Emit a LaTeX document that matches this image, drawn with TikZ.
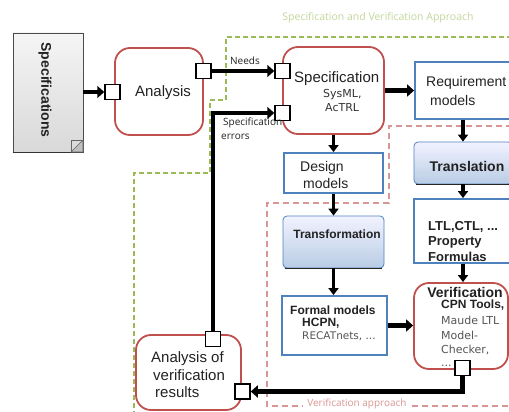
\documentclass[tikz,border=0pt]{standalone}
\usepackage{fontspec}
\setmainfont{Liberation Sans}
\newfontfamily\labfont{Open Sans}
\newfontfamily\dvfont{DejaVu Sans}
\usetikzlibrary{arrows.meta}
\definecolor{redb}{HTML}{C0504D}
\definecolor{blueb}{HTML}{4F81BD}
\definecolor{greend}{HTML}{9BBB59}
\definecolor{greent}{HTML}{C3D69B}
\definecolor{redt}{HTML}{D99694}
\definecolor{txtd}{HTML}{222222}
\definecolor{txtg}{HTML}{555555}
\tikzset{
  port/.style={draw=black, fill=white, line width=1.5pt, minimum size=15pt, inner sep=0pt},
  proc/.style={draw=redb, line width=1.8pt, rounded corners=15pt, inner sep=0pt},
  bluebox/.style={draw=blueb, line width=1.8pt, inner sep=0pt, fill=white},
  shbox/.style={draw=blueb, line width=0.8pt, top color=blue!5, bottom color=blueb!40, rounded corners=4pt, inner sep=0pt},
  arr/.style={line width=4.2pt, -{Triangle[length=7pt,width=12pt]}},
  varr/.style={line width=3.2pt, -{Triangle[length=7pt,width=10pt]}},
  txt/.style={inner sep=0pt, anchor=west, text=txtd},
  big/.style={font=\fontsize{15}{17}\selectfont},
  mid/.style={font=\fontsize{14}{16}\selectfont},
  sm/.style={font=\dvfont\fontsize{11}{13}\selectfont},
  lab/.style={inner sep=0pt, font=\labfont\fontsize{10}{12}\selectfont},
  gdash/.style={draw=greend, line width=1.3pt, dash pattern=on 5pt off 3pt},
  rdash/.style={draw=redt, line width=1.3pt, dash pattern=on 6pt off 4pt},
}
\begin{document}
\begin{tikzpicture}[x=1pt,y=-1pt]
\clip (0,0) rectangle (509,412);
\fill[white] (0,0) rectangle (509,412);
% dashed frames
\draw[gdash] (512,37) -- (226,37) -- (226,100) -- (210,100) -- (210,173) -- (134,173) -- (134,414);
\node[lab, text=greent, font=\labfont\fontsize{10.5}{12}\selectfont] (ttl) at (378,18) {Specification and Verification Approach};
\draw[rdash] (512,126) -- (389,126) -- (389,203) -- (267,203) -- (267,406) -- (512,406);
\node[lab, text=redt, fill=white, inner xsep=4pt, inner ysep=1pt] (vtl) at (357,404) {Verification approach};
% document
\node[draw=black!70, line width=0.8pt, top color=gray!8, bottom color=gray!30, minimum width=70pt, minimum height=119pt, inner sep=0pt] (doc) at (48,92.5) {};
\draw[line width=1.6pt, black!80] (doc.south west) -- (doc.south east);
\draw[black!60, fill=gray!50, line width=0.6pt] (71,152) -- (83,140) -- (83,152) -- cycle;
\draw[black!60, line width=0.6pt] (71,152) -- (71,140) -- (83,140);
\node[inner sep=0pt, rotate=-90, font=\bfseries\fontsize{14}{16}\selectfont, text=txtd] (doct) at (45,90) {Specifications};
% process boxes
\node[proc, minimum width=88pt, minimum height=87pt] (ana) at (159,91.5) {};
\node[txt, big, anchor=center] (anat) at (163,93) {Analysis};
\node[proc, minimum width=101pt, minimum height=87pt] (spec) at (333.5,90.5) {};
\node[txt, big] (spect) at (294,79) {Specification};
\node[txt, sm, text=black!80] (sp1) at (323,95) {SysML,};
\node[txt, sm, text=black!80] (sp2) at (325,108) {AcTRL};
\node[proc, minimum width=105pt, minimum height=75pt] (res) at (188.5,372.5) {};
\node[txt, big] (r1) at (151,359) {Analysis of};
\node[txt, big] (r2) at (153,375) {verification};
\node[txt, big] (r3) at (155,392) {results};
\node[proc, minimum width=94pt, minimum height=86pt] (ver) at (461,326) {};
\node[txt, font=\bfseries\fontsize{14}{16}\selectfont, anchor=center] (v1) at (465,292) {Verification};
\node[txt, font=\bfseries\fontsize{12}{14}\selectfont] (v2) at (441,305) {CPN Tools,};
\node[txt, sm, text=txtg] (v3) at (441,320) {Maude LTL};
\node[txt, sm, text=txtg] (v4) at (441,335) {Model-};
\node[txt, sm, text=txtg] (v5) at (441,350) {Checker,};
\node[txt, sm, text=txtg] (v6) at (441,366) {...};
% blue boxes
\node[bluebox, minimum width=97pt, minimum height=57pt] (req) at (463.5,90.5) {};
\node[txt, mid] (q1) at (426,83) {Requirement};
\node[txt, mid] (q2) at (430,100) {models};
\node[bluebox, minimum width=99pt, minimum height=40pt] (des) at (333.5,173) {};
\node[txt, mid] (d1) at (300,168) {Design};
\node[txt, mid] (d2) at (303,183) {models};
\node[shbox, minimum width=101pt, minimum height=52pt] (tra) at (333.5,242) {};
\draw[line width=1.6pt, black!85] ([xshift=2pt]tra.south west) -- ([xshift=-2pt]tra.south east);
\node[txt, font=\bfseries\fontsize{12}{14}\selectfont, anchor=center] (trat) at (337,234) {Transformation};
\node[bluebox, minimum width=105pt, minimum height=59pt] (for) at (334.5,325.5) {};
\node[txt, font=\bfseries\fontsize{12}{14}\selectfont] (f1) at (290,310) {Formal models};
\node[txt, font=\bfseries\fontsize{12}{14}\selectfont] (f2) at (302,323) {HCPN,};
\node[txt, sm, text=txtg, font=\dvfont\fontsize{10.5}{12}\selectfont] (f3) at (302,336) {RECATnets, ...};
\node[shbox, minimum width=98pt, minimum height=42pt] (trl) at (463,163) {};
\draw[line width=1.6pt, black!85] ([xshift=2pt]trl.south west) -- ([xshift=-2pt]trl.south east);
\node[txt, font=\bfseries\fontsize{14}{16}\selectfont, anchor=center] (trlt) at (467,166) {Translation};
\node[bluebox, minimum width=98pt, minimum height=64pt] (ltl) at (463,231) {};
\node[txt, font=\bfseries\fontsize{13}{15}\selectfont] (l1) at (428,227) {LTL,CTL, ...};
\node[txt, font=\bfseries\fontsize{13}{15}\selectfont] (l2) at (428,242) {Property};
\node[txt, font=\bfseries\fontsize{13}{15}\selectfont] (l3) at (428,257) {Formulas};
% ports
\node[port] (pA) at (112.5,92) {};
\node[port] (pAo) at (203.5,71) {};
\node[port] (pSn) at (282.5,71) {};
\node[port] (pSe) at (282.5,113) {};
\node[port] (pRt) at (213,339) {};
\node[port] (pRr) at (242.5,391.5) {};
\node[port] (pV) at (462.5,368) {};
% connectors
\draw[arr] (doc.east |- pA) -- (pA.west);
\draw[arr] (pAo.east) -- (pSn.west);
\node[lab, text=txtd] (nl) at (245,61) {Needs};
\draw[arr] (pRt.north) |- (pSe.west);
\node[lab, text=txtd, anchor=west] (se1) at (223,123) {Specification};
\node[lab, text=txtd, anchor=west] (se2) at (221,137) {errors};
\draw[arr] (spec.east) -- (req.west);
\draw[varr] (spec.south) -- (des.north);
\draw[varr] (des.south) -- (tra.north);
\draw[varr] (tra.south) -- (tra.south |- for.north);
\draw[varr] (req.south -| trl.north) -- (trl.north);
\draw[varr] (trl.south) -- (ltl.north);
\draw[varr] (ltl.south) -- (ltl.south |- ver.north);
\draw[arr] (for.east) -- (for.east -| ver.west);
\draw[arr] (pV.south) |- (pRr.east);
\end{tikzpicture}
\end{document}
